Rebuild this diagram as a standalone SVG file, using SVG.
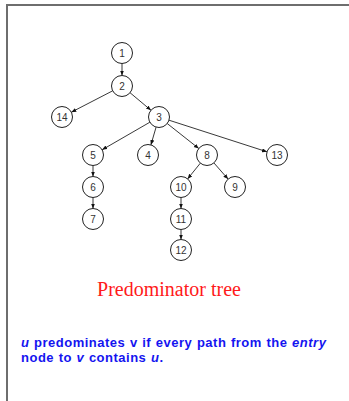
<svg xmlns="http://www.w3.org/2000/svg" width="349" height="401" viewBox="0 0 349 401">
  <style>
    .frame { stroke: #6e6e6e; stroke-width: 2; fill: none; }
    .node circle { fill: #ffffff; stroke: #222222; stroke-width: 1; }
    .node text { font-family: "Liberation Sans", Arial, sans-serif; font-size: 10px; fill: #333333; text-anchor: middle; dominant-baseline: central; }
    .edge { stroke: #222222; stroke-width: 0.9; fill: none; marker-end: url(#arrow); }
    .title { font-family: "Liberation Serif", "Times New Roman", serif; font-size: 20px; fill: #ff1a1a; text-anchor: middle; }
    .note { font-family: "Liberation Sans", Arial, sans-serif; font-size: 13px; font-weight: bold; fill: #1414f0; letter-spacing: 0.5px; word-spacing: 0.5px; }
    .note .it { font-style: italic; }
  </style>
  <defs>
    <marker id="arrow" markerUnits="userSpaceOnUse" markerWidth="6" markerHeight="5" refX="5" refY="2" orient="auto">
      <path d="M0,0 L5,2 L0,4 z" fill="#111111"/>
    </marker>
  </defs>

  <!-- page frame -->
  <path class="frame" d="M7,401 L7,5 L349,5"/>

  <!-- tree edges -->
  <g id="edges">
    <line class="edge" x1="122" y1="63.5" x2="122" y2="75.5"/>
    <line class="edge" x1="112.7" y1="90.8" x2="71.3" y2="112.2"/>
    <line class="edge" x1="130" y1="92.7" x2="151" y2="110.3"/>
    <line class="edge" x1="149.9" y1="122.2" x2="102.1" y2="149.8"/>
    <line class="edge" x1="156.1" y1="127.1" x2="150.9" y2="144.9"/>
    <line class="edge" x1="167.2" y1="123.5" x2="198.8" y2="148.5"/>
    <line class="edge" x1="169" y1="120.2" x2="267" y2="151.8"/>
    <line class="edge" x1="200.4" y1="163.1" x2="187.6" y2="178.9"/>
    <line class="edge" x1="213.9" y1="162.9" x2="228.1" y2="179.1"/>
    <line class="edge" x1="93" y1="165.5" x2="93" y2="176.5"/>
    <line class="edge" x1="93" y1="197.5" x2="93" y2="208.5"/>
    <line class="edge" x1="181" y1="197.5" x2="181" y2="208.5"/>
    <line class="edge" x1="181" y1="229.5" x2="181" y2="239.5"/>
  </g>

  <!-- tree nodes -->
  <g id="n1" class="node"><circle cx="122" cy="53" r="10.5"/><text x="122" y="53">1</text></g>
  <g id="n2" class="node"><circle cx="122" cy="86" r="10.5"/><text x="122" y="86">2</text></g>
  <g id="n14" class="node"><circle cx="62" cy="117" r="10.5"/><text x="62" y="117">14</text></g>
  <g id="n3" class="node"><circle cx="159" cy="117" r="10.5"/><text x="159" y="117">3</text></g>
  <g id="n5" class="node"><circle cx="93" cy="155" r="10.5"/><text x="93" y="155">5</text></g>
  <g id="n4" class="node"><circle cx="148" cy="155" r="10.5"/><text x="148" y="155">4</text></g>
  <g id="n8" class="node"><circle cx="207" cy="155" r="10.5"/><text x="207" y="155">8</text></g>
  <g id="n13" class="node"><circle cx="277" cy="155" r="10.5"/><text x="277" y="155">13</text></g>
  <g id="n6" class="node"><circle cx="93" cy="187" r="10.5"/><text x="93" y="187">6</text></g>
  <g id="n7" class="node"><circle cx="93" cy="219" r="10.5"/><text x="93" y="219">7</text></g>
  <g id="n10" class="node"><circle cx="181" cy="187" r="10.5"/><text x="181" y="187">10</text></g>
  <g id="n9" class="node"><circle cx="235" cy="187" r="10.5"/><text x="235" y="187">9</text></g>
  <g id="n11" class="node"><circle cx="181" cy="219" r="10.5"/><text x="181" y="219">11</text></g>
  <g id="n12" class="node"><circle cx="181" cy="250" r="10.5"/><text x="181" y="250">12</text></g>

  <!-- caption -->
  <text class="title" x="169" y="296">Predominator tree</text>

  <!-- definition -->
  <text class="note" x="21" y="347"><tspan class="it">u</tspan> predominates v if every path from the <tspan class="it">entry</tspan></text>
  <text class="note" x="21" y="362">node to <tspan class="it">v</tspan> contains <tspan class="it">u</tspan>.</text>
</svg>
